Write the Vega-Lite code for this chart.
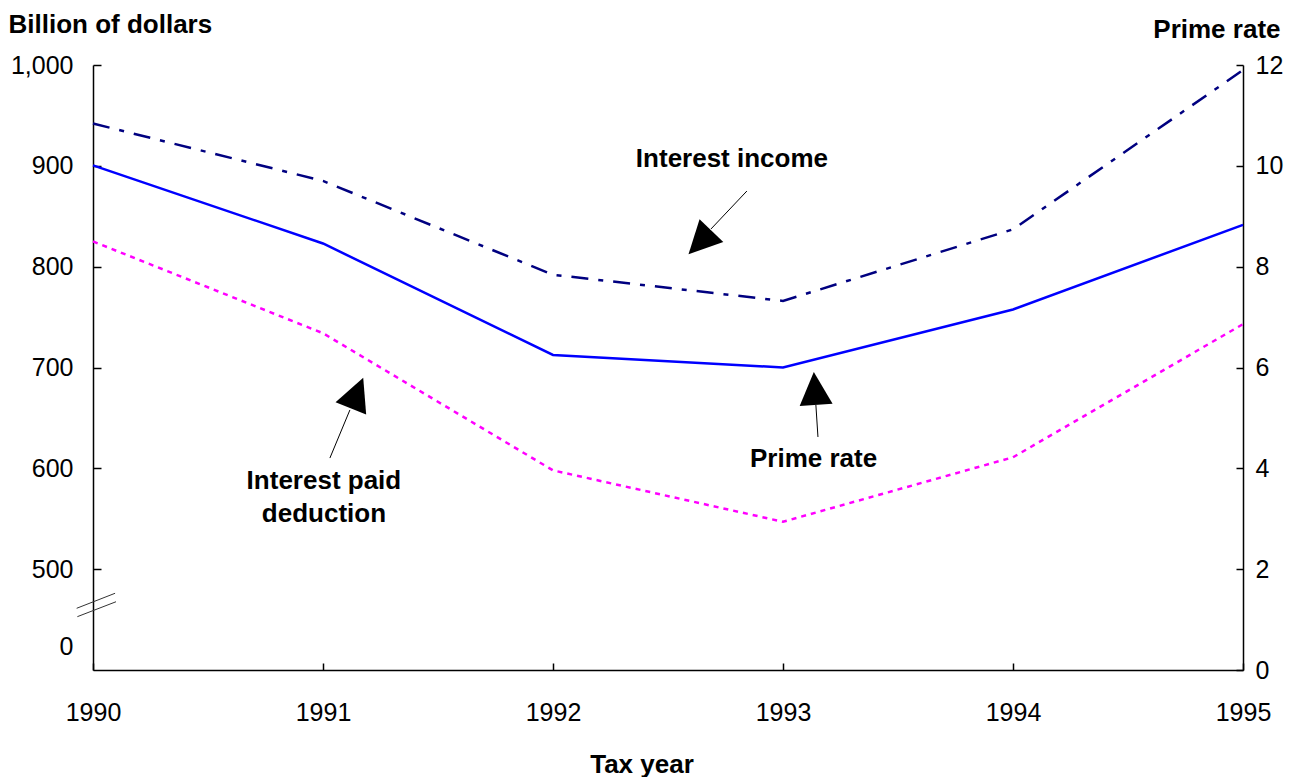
{
  "$schema": "https://vega.github.io/schema/vega-lite/v6.json",
  "width": 1150,
  "height": 605,
  "autosize": {"type": "none"},
  "padding": {"left": 93, "top": 65, "right": 51, "bottom": 107},
  "background": "white",
  "config": {
    "view": {"stroke": null},
    "font": "Liberation Sans",
    "axis": {
      "grid": false,
      "domainColor": "black",
      "domainWidth": 1.5,
      "tickColor": "black",
      "tickWidth": 1.5,
      "labelColor": "black",
      "labelFont": "Liberation Sans",
      "labelFontSize": 25,
      "titleFont": "Liberation Sans",
      "titleFontSize": 26,
      "titleFontWeight": "bold",
      "titleColor": "black"
    }
  },
  "datasets": {
    "series": [
      {"year": 1990, "series": "Interest income", "value": 942},
      {"year": 1991, "series": "Interest income", "value": 885},
      {"year": 1992, "series": "Interest income", "value": 792},
      {"year": 1993, "series": "Interest income", "value": 766},
      {"year": 1994, "series": "Interest income", "value": 837},
      {"year": 1995, "series": "Interest income", "value": 995},
      {"year": 1990, "series": "Interest paid deduction", "value": 825},
      {"year": 1991, "series": "Interest paid deduction", "value": 734},
      {"year": 1992, "series": "Interest paid deduction", "value": 598},
      {"year": 1993, "series": "Interest paid deduction", "value": 547},
      {"year": 1994, "series": "Interest paid deduction", "value": 611},
      {"year": 1995, "series": "Interest paid deduction", "value": 743}
    ],
    "prime": [
      {"year": 1990, "rate": 10.01},
      {"year": 1991, "rate": 8.46},
      {"year": 1992, "rate": 6.25},
      {"year": 1993, "rate": 6.0},
      {"year": 1994, "rate": 7.15},
      {"year": 1995, "rate": 8.83}
    ],
    "arrows": [
      {"year": 1992.843, "value": 875.0, "year2": 1992.687, "value2": 837.4},
      {"year": 1993.143, "value": 662.8, "year2": 1993.152, "value2": 631.1},
      {"year": 1991.117, "value": 657.9, "year2": 1991.03, "value2": 610.2}
    ],
    "breaks": [
      {"year": 1989.929, "value": 461.2, "year2": 1990.096, "value2": 476.1},
      {"year": 1989.932, "value": 452.9, "year2": 1990.1, "value2": 467.7}
    ],
    "heads": [
      {"year": 1992.639, "value": 824.0, "angle": 224},
      {"year": 1993.139, "value": 679.2, "angle": 356},
      {"year": 1991.148, "value": 674.7, "angle": 22}
    ],
    "labels": [
      {"year": 1992.778, "value": 898.8, "label": "Interest income"},
      {"year": 1993.133, "value": 601.3, "label": "Prime rate"},
      {"year": 1991.004, "value": 579.9, "label": "Interest paid"},
      {"year": 1991.004, "value": 547.1, "label": "deduction"}
    ]
  },
  "layer": [
    {
      "layer": [
        {
          "data": {"name": "series"},
          "mark": {"type": "line", "strokeWidth": 2.5},
          "encoding": {
            "x": {
              "field": "year",
              "type": "quantitative",
              "scale": {"domain": [1990, 1995], "nice": false, "zero": false},
              "axis": {
                "values": [1990, 1991, 1992, 1993, 1994, 1995],
                "format": "d",
                "tickSize": -7,
                "labelPadding": 57,
                "labelBaseline": "alphabetic",
                "labelFlush": false,
                "labelOverlap": false,
                "title": "Tax year",
                "titleX": 548.5,
                "titleY": 102,
                "titleAlign": "center",
                "titleBaseline": "alphabetic"
              }
            },
            "y": {
              "field": "value",
              "type": "quantitative",
              "scale": {"domain": [400, 1000], "nice": false, "zero": false},
              "axis": {
                "values": [423.8, 500, 600, 700, 800, 900, 1000],
                "labelExpr": "datum.value < 450 ? '0' : format(datum.value, ',')",
                "tickOpacity": {"condition": {"test": "datum.value < 450", "value": 0}, "value": 1},
                "tickSize": -8,
                "labelPadding": 28,
                "labelBaseline": "middle",
                "labelFlush": false,
                "labelOverlap": false,
                "title": "Billion of dollars",
                "titleAngle": 0,
                "titleAlign": "left",
                "titleBaseline": "alphabetic",
                "titleX": -85,
                "titleY": -33
              }
            },
            "color": {
              "field": "series",
              "type": "nominal",
              "scale": {"domain": ["Interest income", "Interest paid deduction"], "range": ["#000080", "#FF00FF"]},
              "legend": null
            },
            "strokeDash": {
              "field": "series",
              "type": "nominal",
              "scale": {"domain": ["Interest income", "Interest paid deduction"], "range": [[17, 10, 5, 10], [5, 5]]},
              "legend": null
            }
          }
        },
        {
          "data": {"name": "arrows"},
          "mark": {"type": "rule", "color": "black", "strokeWidth": 1},
          "encoding": {
            "x": {"field": "year", "type": "quantitative"},
            "x2": {"field": "year2"},
            "y": {"field": "value", "type": "quantitative"},
            "y2": {"field": "value2"}
          }
        },
        {
          "data": {"name": "breaks"},
          "mark": {"type": "rule", "color": "#333333", "strokeWidth": 1},
          "encoding": {
            "x": {"field": "year", "type": "quantitative"},
            "x2": {"field": "year2"},
            "y": {"field": "value", "type": "quantitative"},
            "y2": {"field": "value2"}
          }
        },
        {
          "data": {"name": "heads"},
          "mark": {"type": "point", "shape": "M0,-1L-1,1L1,1Z", "filled": true, "color": "black", "opacity": 1, "size": 1089},
          "encoding": {
            "x": {"field": "year", "type": "quantitative"},
            "y": {"field": "value", "type": "quantitative"},
            "angle": {"field": "angle", "type": "quantitative", "scale": null}
          }
        },
        {
          "data": {"name": "labels"},
          "mark": {"type": "text", "font": "Liberation Sans", "fontSize": 26, "fontWeight": "bold", "color": "black", "align": "center", "baseline": "alphabetic"},
          "encoding": {
            "x": {"field": "year", "type": "quantitative"},
            "y": {"field": "value", "type": "quantitative"},
            "text": {"field": "label", "type": "nominal"}
          }
        }
      ]
    },
    {
      "data": {"name": "prime"},
      "mark": {"type": "line", "color": "#0000FF", "strokeWidth": 2.5},
      "encoding": {
        "x": {"field": "year", "type": "quantitative"},
        "y": {
          "field": "rate",
          "type": "quantitative",
          "scale": {"domain": [0, 12], "nice": false, "zero": false},
          "axis": {
            "orient": "right",
            "values": [0, 2, 4, 6, 8, 10, 12],
            "tickSize": -7,
            "labelPadding": 19,
            "labelAlign": "left",
            "labelBaseline": "middle",
            "labelFlush": false,
            "labelOverlap": false,
            "title": "Prime rate",
            "titleAngle": 0,
            "titleAlign": "right",
            "titleBaseline": "alphabetic",
            "titleX": 37,
            "titleY": -28
          }
        }
      }
    }
  ],
  "resolve": {"scale": {"y": "independent"}}
}
